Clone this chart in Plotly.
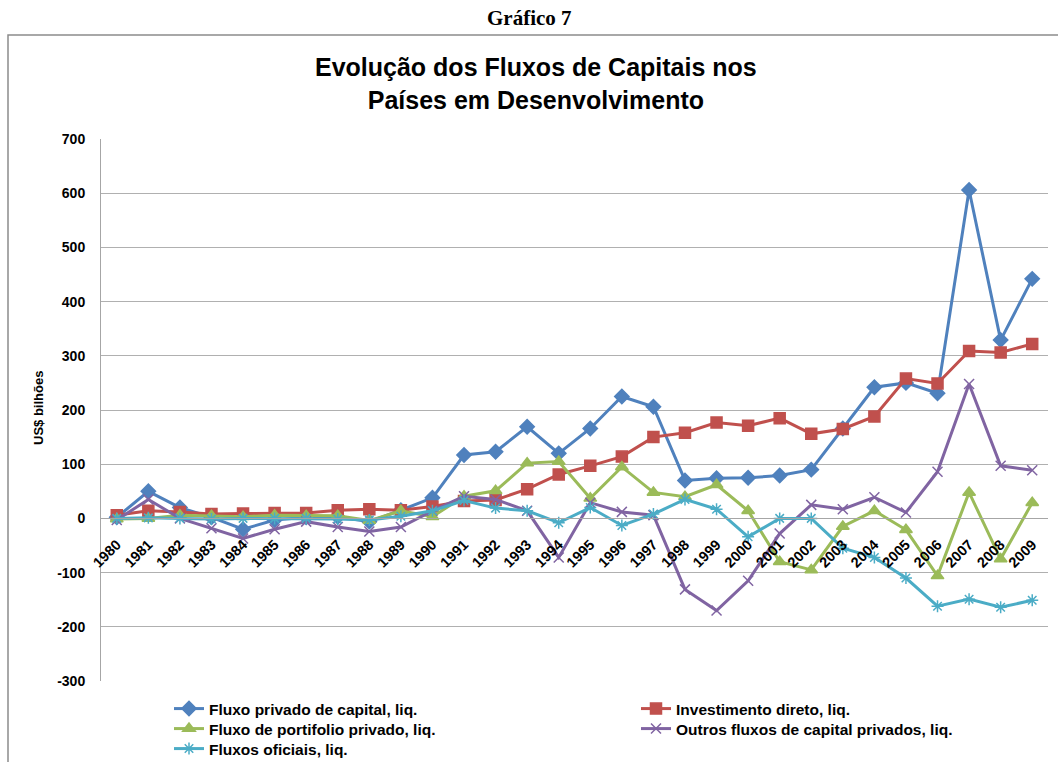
import plotly.graph_objects as go

years = [str(y) for y in range(1980, 2010)]

fluxo_privado = [2, 50, 20, 2, -20, -3, 2, 3, -6, 15, 38, 117, 123, 169, 120,
                 166, 225, 206, 70, 74, 75, 79, 90, 166, 242, 250, 231, 606, 329, 442]
investimento_direto = [6, 14, 12, 8, 9, 10, 10, 15, 17, 15, 22, 32, 34, 54, 81,
                       97, 114, 150, 158, 177, 171, 185, 156, 165, 188, 258, 249, 309, 306, 322]
portifolio = [-1, 0, 6, 5, 3, 6, 5, 5, -4, 14, 3, 41, 51, 102, 105,
              37, 95, 48, 40, 62, 14, -80, -95, -15, 14, -21, -106, 48, -75, 29]
outros = [-3, 35, 0, -18, -37, -20, -6, -16, -24, -16, 14, 41, 35, 14, -72,
          29, 12, 6, -131, -170, -115, -28, 25, 17, 39, 11, 86, 248, 97, 89]
oficiais = [0, 1, 0, -1, 0, 0, 0, -1, -3, 4, 14, 33, 19, 14, -8,
            20, -13, 8, 35, 17, -34, 0, 0, -55, -72, -110, -162, -149, -164, -151]

names = ["Fluxo privado de capital, liq.", "Investimento direto, liq.",
         "Fluxo de portifolio privado, liq.", "Outros fluxos de capital privados, liq.",
         "Fluxos oficiais, liq."]
series = [fluxo_privado, investimento_direto, portifolio, outros, oficiais]
colors = ["#4F81BD", "#C0504D", "#9BBB59", "#8064A2", "#4BACC6"]
symbols = ["diamond", "square", "triangle-up", "x-thin-open", "asterisk-open"]
sizes = [11, 11, 11, 10, 10]

yticks = list(range(-300, 701, 100))
yticktext = [str(v) for v in yticks]

FONT = "Liberation Sans, Arial, sans-serif"

W, H = 1058, 762
L, R, T, B = 101, 10, 139, 81
pw, ph = W - L - R, H - T - B


def px_x(x):
    return (x - L) / pw


def px_y(y):
    return (H - B - y) / ph


# legend slot (left pixel, top pixel) for each series: two columns, three rows
legend_ids = ["legend", "legend2", "legend3", "legend4", "legend5"]
legend_pos = [(169, 692), (636, 692), (169, 712), (636, 712), (169, 732)]

fig = go.Figure()
for name, vals, c, s, sz, lg in zip(names, series, colors, symbols, sizes, legend_ids):
    fig.add_trace(go.Scatter(
        x=years, y=vals, name=name, mode="lines+markers",
        line=dict(color=c, width=3),
        marker=dict(symbol=s, size=sz, color=c, line=dict(color=c, width=1.5)),
        legend=lg,
    ))

legend_layout = {}
for lg, (lx, ly) in zip(legend_ids, legend_pos):
    legend_layout[lg] = dict(
        orientation="v", x=px_x(lx), y=px_y(ly), xanchor="left", yanchor="top",
        font=dict(size=15.5, family=FONT, color="black", weight="bold"), itemwidth=30,
        tracegroupgap=0, bgcolor="rgba(0,0,0,0)")

fig.update_layout(
    width=W, height=H,
    margin=dict(l=L, r=R, t=T, b=B, autoexpand=False),
    paper_bgcolor="white", plot_bgcolor="white",
    font=dict(family=FONT, size=12, color="black"),
    showlegend=True,
    xaxis=dict(type="category", range=[-0.5, 29.5], anchor="free", position=0.3,
               showgrid=False, showline=True, linecolor="#A6A6A6", linewidth=1,
               tickangle=-45, tickfont=dict(size=14.5, family=FONT, color="black", weight="bold"),
               ticks="outside", ticklen=11, tickcolor="rgba(0,0,0,0)",
               zeroline=False, categoryorder="array", categoryarray=years),
    yaxis=dict(range=[-300, 700], tickvals=yticks, ticktext=yticktext,
               showgrid=True, gridcolor="#B0B0B0",
               gridwidth=1.2, zeroline=False, showline=True, linecolor="#A6A6A6",
               linewidth=1, tickfont=dict(size=14, family=FONT, color="black", weight="bold"),
               ticks="", ticklabelstandoff=12),
    shapes=[dict(type="rect", xref="paper", yref="paper",
                 x0=px_x(8), x1=px_x(1070), y0=px_y(775), y1=px_y(35),
                 line=dict(color="#8C8C8C", width=1.5), layer="below")],
    annotations=[
        dict(text="<b>Gráfico 7</b>", xref="paper", yref="paper", x=px_x(529), y=px_y(18),
             xanchor="center", yanchor="middle", showarrow=False,
             font=dict(family="Liberation Serif, Times New Roman, serif", size=21, color="black")),
        dict(text="<b>Evolução dos Fluxos de Capitais nos<br>Países em Desenvolvimento</b>",
             xref="paper", yref="paper", x=px_x(536), y=px_y(84),
             xanchor="center", yanchor="middle", showarrow=False,
             font=dict(family=FONT, size=25, color="black")),
        dict(text="<b>US$ bilhões</b>", xref="paper", yref="paper", x=px_x(38), y=px_y(408),
             xanchor="center", yanchor="middle", showarrow=False, textangle=-90,
             font=dict(family=FONT, size=13, color="black")),
    ],
    **legend_layout,
)

fig.write_html("out.html", config={"displayModeBar": False},
               post_script="document.body.style.margin='0';document.body.style.padding='0';")
